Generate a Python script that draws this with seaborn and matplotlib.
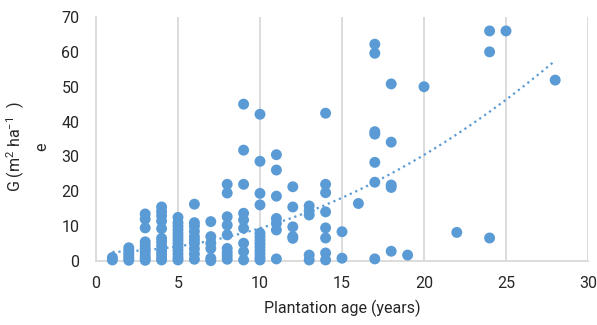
import numpy as np
import pandas as pd
import matplotlib
matplotlib.use("Agg")
import matplotlib.pyplot as plt
import seaborn as sns

# ---- data ----
age_1 = [0.3, 1.0]
age_2 = [0.2, 0.8, 1.5, 2.2, 3.0, 3.8]
age_3 = [13.5, 12.0, 9.5, 5.5, 4.5, 3.5, 2.5, 1.5, 0.8, 0.2]
age_4 = [15.5, 14.2, 13.0, 11.5, 9.3, 6.5, 5.5, 4.3, 3.0, 2.0, 1.0, 0.3]
age_5 = [12.5, 11.0, 10.0, 9.0, 8.0, 7.0, 6.0, 5.0, 4.0, 3.0, 2.0, 1.0, 0.3]
age_6 = [16.3, 11.0, 10.0, 8.5, 7.0, 6.0, 5.0, 3.5, 2.0, 0.5]
age_7 = [11.3, 7.0, 5.1, 3.6, 0.8, 0.1]
age_8 = [22.0, 19.5, 12.7, 10.3, 7.5, 3.6, 2.5, 1.5, 0.5]
age_9 = [45.0, 31.8, 22.0, 13.7, 11.8, 9.4, 5.1, 2.7, 0.3]
age_10 = [42.1, 28.6, 19.4, 16.1, 8.0, 7.0, 6.0, 5.0, 4.0, 3.0, 2.0, 1.0, 0.3]
age_11 = [30.5, 26.1, 18.6, 12.2, 10.8, 8.9, 0.6]
age_12 = [21.3, 15.5, 9.8, 7.0, 6.5]
age_13 = [15.8, 14.4, 13.2, 1.7, 0.3]
age_14 = [42.4, 22.0, 19.6, 14.1, 9.5, 6.6, 2.3, 0.3]
age_15 = [8.4, 0.8]
age_16 = [16.5]
age_17 = [62.2, 59.6, 37.1, 36.4, 28.3, 22.6, 0.6]
age_18 = [50.8, 34.1, 21.8, 21.1, 2.8]
age_19 = [1.7]
age_20 = [50.0]
age_22 = [8.2]
age_24 = [66.0, 60.0, 6.6]
age_25 = [66.0]
age_28 = [51.9]

ages = [1, 2, 3, 4, 5, 6, 7, 8, 9, 10, 11, 12, 13, 14, 15, 16, 17, 18, 19, 20, 22, 24, 25, 28]
g_values = [age_1, age_2, age_3, age_4, age_5, age_6, age_7, age_8, age_9, age_10,
            age_11, age_12, age_13, age_14, age_15, age_16, age_17, age_18, age_19,
            age_20, age_22, age_24, age_25, age_28]

# polynomial (order 2) trendline coefficients: a*x^2 + b*x + c
trend_coef = [0.071, -0.026, 2.55]
trend_range = [1, 28]

x_ticks = [0, 5, 10, 15, 20, 25, 30]
y_ticks = [0, 10, 20, 30, 40, 50, 60, 70]
x_title = "Plantation age (years)"
y_title_1 = "G (m$^{2}$ ha$^{-1}$  )"
y_title_2 = "e"

# ---- build table ----
rows = [(a, g) for a, vals in zip(ages, g_values) for g in vals]
df = pd.DataFrame(rows, columns=["age", "G"])

sns.set_theme(style="white")
plt.rcParams["font.family"] = ["Roboto", "DejaVu Sans"]
plt.rcParams["mathtext.fontset"] = "custom"
plt.rcParams["mathtext.rm"] = "Roboto"
plt.rcParams["mathtext.it"] = "Roboto:italic"

blue = "#5B9BD5"
grid_c = "#D9D9D9"
text_c = "#262626"
fs = 11.5

fig = plt.figure(figsize=(5.97, 3.25), dpi=100)
ax = fig.add_axes([96 / 597, 1 - 261 / 325, (588 - 96) / 597, (261 - 17) / 325])

sns.scatterplot(data=df, x="age", y="G", ax=ax, color=blue, s=62,
                edgecolor="none", linewidth=0, zorder=3, clip_on=False)

xt = np.linspace(trend_range[0], trend_range[1], 200)
yt = np.polyval(trend_coef, xt)
sns.lineplot(x=xt, y=yt, ax=ax, color=blue, linewidth=1.6,
             linestyle=(0, (1, 1.7)), zorder=2)

ax.set_xlim(0, 30)
ax.set_ylim(0, 70)
ax.set_xticks(x_ticks)
ax.set_yticks(y_ticks)
ax.tick_params(axis="both", length=0, labelsize=fs, colors=text_c)
ax.tick_params(axis="x", pad=11)
ax.tick_params(axis="y", pad=12)

for v in x_ticks[1:]:
    ax.axvline(v, color=grid_c, linewidth=1.3, zorder=1)

for s in ["top", "right"]:
    ax.spines[s].set_visible(False)
for s in ["left", "bottom"]:
    ax.spines[s].set_color(grid_c)
    ax.spines[s].set_linewidth(1.3)

ax.set_xlabel(x_title, fontsize=fs, color=text_c, labelpad=6)
ax.set_ylabel(y_title_1, fontsize=fs, color=text_c, va="center", ha="center")
ax.yaxis.set_label_coords((16 - 96) / 492, (261 - 147) / 244)
ax.text((42 - 96) / 492, (261 - 147) / 244, y_title_2, transform=ax.transAxes,
        rotation=90, fontsize=fs, color=text_c, va="center", ha="center")

fig.savefig("out.png", dpi=100)
